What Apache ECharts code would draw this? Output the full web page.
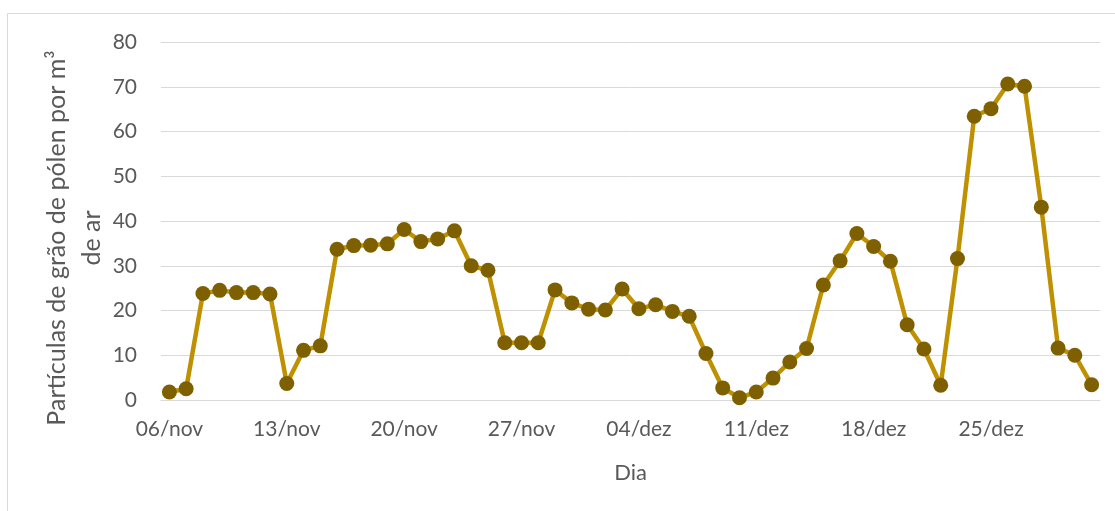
<!DOCTYPE html>
<html>
<head>
<meta charset="utf-8">
<script src="https://cdn.jsdelivr.net/npm/echarts@6/dist/echarts.min.js"></script>
<style>
  html, body { margin: 0; padding: 0; background: #fff; }
  #chart { width: 1115px; height: 511px; }
</style>
</head>
<body>
<div id="chart"></div>
<script>
// dias (06/nov a 31/dez)
const dias = [
  '06/nov', '07/nov', '08/nov', '09/nov', '10/nov', '11/nov', '12/nov',
  '13/nov', '14/nov', '15/nov', '16/nov', '17/nov', '18/nov', '19/nov',
  '20/nov', '21/nov', '22/nov', '23/nov', '24/nov', '25/nov', '26/nov',
  '27/nov', '28/nov', '29/nov', '30/nov', '01/dez', '02/dez', '03/dez',
  '04/dez', '05/dez', '06/dez', '07/dez', '08/dez', '09/dez', '10/dez',
  '11/dez', '12/dez', '13/dez', '14/dez', '15/dez', '16/dez', '17/dez',
  '18/dez', '19/dez', '20/dez', '21/dez', '22/dez', '23/dez', '24/dez',
  '25/dez', '26/dez', '27/dez', '28/dez', '29/dez', '30/dez', '31/dez'
];

// partículas de pólen por m3, um valor por dia
const polen = [
  1.8, 2.5, 23.8, 24.5, 24.0, 24.0, 23.7,
  3.7, 11.1, 12.1, 33.7, 34.5, 34.6, 34.9,
  38.1, 35.4, 36.0, 37.8, 30.0, 29.0, 12.8,
  12.8, 12.8, 24.6, 21.7, 20.3, 20.1, 24.8,
  20.4, 21.3, 19.8, 18.7, 10.4, 2.7, 0.5,
  1.8, 4.9, 8.5, 11.5, 25.7, 31.1, 37.2,
  34.3, 31.0, 16.8, 11.4, 3.3, 31.6, 63.4,
  65.1, 70.6, 70.1, 43.1, 11.6, 10.0, 3.4
];

const yTicks = [0, 80, 10]; // min, max, interval

const font = 'Lato';
const grey = '#595959';

let chart = echarts.init(document.getElementById('chart'));
chart.setOption({
  animation: false,
  textStyle: { fontFamily: font },
  grid: { left: 161, right: 15, top: 42, bottom: 111, containLabel: false },
  graphic: [
    {
      type: 'rect',
      shape: { x: 7.5, y: 13.5, width: 1200, height: 600 },
      style: { fill: 'none', stroke: '#d9d9d9', lineWidth: 1 },
      silent: true
    },
    {
      type: 'text',
      x: 74, y: 238,
      rotation: Math.PI / 2,
      style: {
        text: 'Partículas de grão de pólen por m³\nde ar',
        font: '25px Lato',
        fill: grey,
        align: 'center',
        verticalAlign: 'middle',
        lineHeight: 35
      }
    }
  ],
  xAxis: {
    type: 'category',
    data: dias,
    boundaryGap: true,
    name: 'Dia',
    nameLocation: 'middle',
    nameGap: 62,
    nameTextStyle: { color: grey, fontSize: 22, fontFamily: font },
    axisLine: { lineStyle: { color: '#d9d9d9', width: 1 } },
    axisTick: { interval: 6, length: 7, lineStyle: { color: '#d9d9d9' } },
    axisLabel: { interval: 6, color: grey, fontSize: 21, margin: 19, fontFamily: font }
  },
  yAxis: {
    type: 'value',
    min: yTicks[0],
    max: yTicks[1],
    interval: yTicks[2],
    axisLine: { show: false },
    axisTick: { show: false },
    axisLabel: { color: grey, fontSize: 21, margin: 24, fontFamily: font },
    splitLine: { lineStyle: { color: '#d9d9d9', width: 1 } }
  },
  series: [
    {
      type: 'line',
      data: polen,
      symbol: 'circle',
      symbolSize: 15,
      showAllSymbol: true,
      lineStyle: { color: '#bf9000', width: 4.5 },
      itemStyle: { color: '#7f6000' }
    }
  ]
});
</script>
</body>
</html>
